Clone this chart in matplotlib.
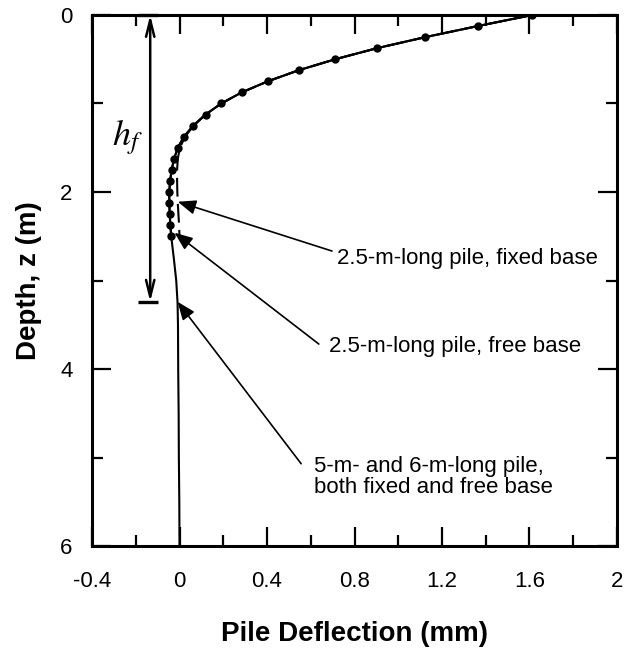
import matplotlib
matplotlib.use("Agg")
import matplotlib.pyplot as plt
from matplotlib.ticker import MultipleLocator, FuncFormatter

plt.rcParams['font.family'] = ['Liberation Sans', 'DejaVu Sans']
plt.rcParams['axes.unicode_minus'] = False
plt.rcParams['mathtext.fontset'] = 'stix'

# 2.5-m-long pile, free base (dots)
depth_free = [0.0, 0.125, 0.25, 0.375, 0.5, 0.625, 0.75, 0.875, 1.0, 1.125, 1.25,
              1.375, 1.5, 1.625, 1.75, 1.875, 2.0, 2.125, 2.25, 2.375, 2.5]
defl_free = [1.613, 1.364, 1.124, 0.903, 0.712, 0.544, 0.403, 0.284, 0.191, 0.119, 0.063,
             0.020, -0.008, -0.025, -0.036, -0.043, -0.047, -0.047, -0.045, -0.042, -0.038]

# 2.5-m-long pile, fixed base (dashed)
depth_fixed = [0.0, 0.125, 0.25, 0.375, 0.5, 0.625, 0.75, 0.875, 1.0, 1.125, 1.25,
               1.375, 1.5, 1.625, 1.75, 1.875, 2.0, 2.125, 2.25, 2.375, 2.5]
defl_fixed = [1.613, 1.364, 1.124, 0.903, 0.712, 0.544, 0.403, 0.284, 0.191, 0.119, 0.065,
              0.025, 0.002, -0.008, -0.011, -0.011, -0.010, -0.008, -0.005, -0.002, 0.0]

# 5-m- and 6-m-long pile (solid)
depth_long = [0.0, 0.125, 0.25, 0.375, 0.5, 0.625, 0.75, 0.875, 1.0, 1.125, 1.25,
              1.375, 1.5, 1.625, 1.75, 1.875, 2.0, 2.25, 2.5, 2.75, 3.0, 3.25,
              3.5, 4.0, 4.5, 5.0, 5.5, 6.0]
defl_long = [1.613, 1.364, 1.124, 0.903, 0.712, 0.544, 0.403, 0.284, 0.191, 0.119, 0.063,
             0.020, -0.008, -0.025, -0.036, -0.043, -0.047, -0.045, -0.038, -0.026, -0.015, -0.009,
             -0.007, -0.006, -0.004, -0.003, -0.001, 0.0]

# hf marker
hf = 3.24
hf_x = -0.134

fig = plt.figure(figsize=(6.29, 6.57), dpi=100)
ax = fig.add_axes([0.1463, 0.1689, 0.8346, 0.8083])

ax.plot(defl_long, depth_long, '-', color='k', lw=1.5)
ax.plot(defl_fixed, depth_fixed, color='k', lw=1.5, dashes=(9, 3.5))
ax.plot(defl_free, depth_free, '-o', color='k', lw=1.5, ms=5)

# h_f double arrow
ax.annotate('', xy=(hf_x, 0), xytext=(hf_x, hf),
            arrowprops=dict(arrowstyle='<->,head_length=0.8,head_width=0.2',
                            lw=1.8, color='k', shrinkA=0, shrinkB=0, mutation_scale=15))
ax.plot([hf_x - 0.056, hf_x + 0.035], [hf, hf], color='k', lw=2.4, solid_capstyle='butt')
ax.plot([hf_x - 0.056, hf_x + 0.035], [0, 0], color='k', lw=2.4, solid_capstyle='butt',
        clip_on=False)
ax.text(-0.24, 1.38, r'$h_f$', fontsize=26, ha='center', va='center')

arrow = dict(arrowstyle='-|>,head_length=0.55,head_width=0.22', lw=1.2, color='k',
             shrinkA=0, shrinkB=0, mutation_scale=20)
ax.annotate('', xy=(-0.008, 2.11), xytext=(0.697, 2.667), arrowprops=arrow)
ax.annotate('', xy=(-0.023, 2.46), xytext=(0.637, 3.718), arrowprops=arrow)
ax.annotate('', xy=(-0.009, 3.24), xytext=(0.556, 5.07), arrowprops=arrow)

ax.text(0.719, 2.75, '2.5-m-long pile, fixed base', fontsize=16, ha='left', va='center')
ax.text(0.682, 3.75, '2.5-m-long pile, free base', fontsize=16, ha='left', va='center')
ax.text(0.617, 5.22, '5-m- and 6-m-long pile,\nboth fixed and free base', fontsize=16,
        ha='left', va='center', linespacing=1.05)

ax.set_xlim(-0.4, 2)
ax.set_ylim(6, 0)
ax.xaxis.set_major_locator(MultipleLocator(0.4))
ax.xaxis.set_minor_locator(MultipleLocator(0.2))
ax.yaxis.set_major_locator(MultipleLocator(2))
ax.yaxis.set_minor_locator(MultipleLocator(1))
ax.xaxis.set_major_formatter(FuncFormatter(lambda v, p: '%g' % round(v, 2)))
ax.yaxis.set_major_formatter(FuncFormatter(lambda v, p: '%g' % v))

ax.tick_params(which='both', direction='in', top=True, right=True, width=1.6, labelsize=16)
ax.tick_params(which='major', length=14)
ax.tick_params(which='minor', length=8)
ax.tick_params(axis='x', which='major', pad=18)
ax.tick_params(axis='y', which='major', pad=14)
for s in ax.spines.values():
    s.set_linewidth(2.2)

ax.set_xlabel('Pile Deflection (mm)', fontsize=20, fontweight='bold', labelpad=21)
ax.set_ylabel('Depth, z (m)', fontsize=20, fontweight='bold', labelpad=13)

fig.savefig('out.png', dpi=100)
